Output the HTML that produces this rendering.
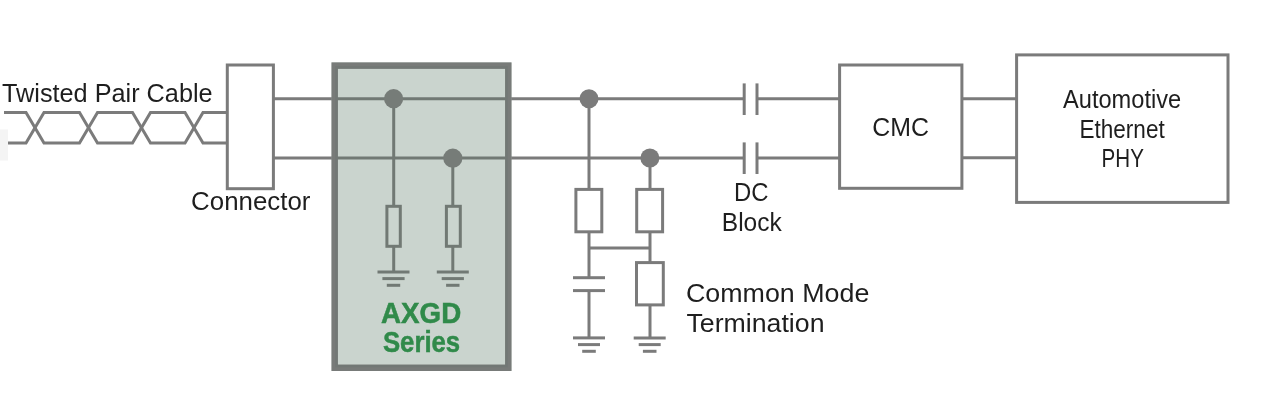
<!DOCTYPE html>
<html><head><meta charset="utf-8">
<style>
html,body{margin:0;padding:0;background:#fff;width:1280px;height:407px;overflow:hidden;}
svg{display:block;will-change:transform;}
text{font-family:"Liberation Sans",sans-serif;fill:#1e1e1e;stroke:none;}
</style></head>
<body>
<svg width="1280" height="407" viewBox="0 0 1280 407">
<rect x="0" y="0" width="1280" height="407" fill="#fff"/>
<rect x="0" y="129.5" width="8" height="31" fill="#f4f4f4"/>

<g fill="none" stroke="#7b7b7b" stroke-width="3" stroke-linejoin="miter">
  <!-- twisted pair -->
  <polyline points="4,112.5 26,112.5 44,143 79.5,143 97.5,112.5 132.5,112.5 150.5,143 185,143 203,112.5 227,112.5"/>
  <polyline points="8,143 26,143 44,112.5 79.5,112.5 97.5,143 132.5,143 150.5,112.5 185,112.5 203,143 227,143"/>
  <!-- connector -->
  <rect x="227.3" y="65" width="46.1" height="123.7" fill="#fff"/>
  <!-- main lines -->
  <line x1="273.4" y1="98.8" x2="744.2" y2="98.8"/>
  <line x1="757" y1="98.8" x2="839.6" y2="98.8"/>
  <line x1="273.4" y1="158" x2="744.2" y2="158"/>
  <line x1="757" y1="158" x2="839.6" y2="158"/>
</g>

<!-- AXGD box fill -->
<rect x="331.5" y="62.4" width="180" height="308.6" fill="#cad4ce"/>
<g fill="none" stroke="#717974" stroke-width="3">
  <line x1="331.5" y1="98.8" x2="511.5" y2="98.8"/>
  <line x1="331.5" y1="158" x2="511.5" y2="158"/>
  <line x1="393.7" y1="98.8" x2="393.7" y2="206.3"/>
  <rect x="386.9" y="206.3" width="13.4" height="40"/>
  <line x1="393.7" y1="246.3" x2="393.7" y2="271.9"/>
  <line x1="377.5" y1="271.9" x2="409.5" y2="271.9"/>
  <line x1="382.4" y1="278.6" x2="404.6" y2="278.6"/>
  <line x1="386.8" y1="285.3" x2="400.2" y2="285.3"/>

  <line x1="452.8" y1="158" x2="452.8" y2="206.3"/>
  <rect x="446.4" y="206.3" width="13.9" height="40"/>
  <line x1="452.8" y1="246.3" x2="452.8" y2="271.9"/>
  <line x1="436.8" y1="271.9" x2="468.8" y2="271.9"/>
  <line x1="441.7" y1="278.6" x2="463.9" y2="278.6"/>
  <line x1="446.1" y1="285.3" x2="459.5" y2="285.3"/>
</g>
<rect x="334.65" y="65.55" width="173.7" height="302.3" fill="none" stroke="#787b79" stroke-width="6.3"/>
<rect x="336.5" y="67.4" width="170" height="298.6" fill="none" stroke="#727875" stroke-width="2.5"/>
<circle cx="393.6" cy="98.7" r="9.6" fill="#767c78"/>
<circle cx="452.8" cy="158.2" r="9.6" fill="#767c78"/>

<g fill="none" stroke="#7b7b7b" stroke-width="3">
  <!-- CMT -->
  <line x1="589" y1="98.8" x2="589" y2="189.4"/>
  <rect x="575.9" y="189.4" width="25.9" height="42.4"/>
  <line x1="589" y1="231.8" x2="589" y2="277.7"/>
  <line x1="573" y1="277.7" x2="605" y2="277.7"/>
  <line x1="573" y1="290.6" x2="605" y2="290.6"/>
  <line x1="589" y1="290.6" x2="589" y2="337.9"/>
  <line x1="573" y1="337.9" x2="605" y2="337.9"/>
  <line x1="578" y1="344.6" x2="600" y2="344.6"/>
  <line x1="582.2" y1="351.3" x2="595.8" y2="351.3"/>

  <line x1="650" y1="158" x2="650" y2="189.4"/>
  <rect x="636.7" y="189.4" width="25.9" height="42.4"/>
  <line x1="650" y1="231.8" x2="650" y2="262.6"/>
  <line x1="589" y1="248" x2="650" y2="248"/>
  <rect x="636.5" y="262.6" width="26.8" height="42.3"/>
  <line x1="650" y1="304.9" x2="650" y2="337.9"/>
  <line x1="633.7" y1="337.9" x2="665.7" y2="337.9"/>
  <line x1="638.7" y1="344.6" x2="660.7" y2="344.6"/>
  <line x1="642.9" y1="351.3" x2="656.5" y2="351.3"/>

  <!-- DC block -->
  <line x1="744.2" y1="83.4" x2="744.2" y2="115"/>
  <line x1="757" y1="83.4" x2="757" y2="115"/>
  <line x1="744.2" y1="142.4" x2="744.2" y2="174"/>
  <line x1="757" y1="142.4" x2="757" y2="174"/>

  <!-- CMC -->
  <rect x="839.6" y="65" width="122.3" height="123.3"/>
  <line x1="961.9" y1="98.8" x2="1016.6" y2="98.8"/>
  <line x1="961.9" y1="157.8" x2="1016.6" y2="157.8"/>
  <!-- PHY -->
  <rect x="1016.6" y="54.9" width="211.4" height="147.5"/>
</g>
<circle cx="589" cy="98.7" r="9.5" fill="#7b7b7b"/>
<circle cx="649.9" cy="158" r="9.5" fill="#7b7b7b"/>

<g font-size="26.5">
  <text x="2" y="101.9" textLength="210.6" lengthAdjust="spacingAndGlyphs">Twisted Pair Cable</text>
  <text x="191.1" y="210.2" textLength="119.3" lengthAdjust="spacingAndGlyphs">Connector</text>
  <text x="734" y="200.9" textLength="34.5" lengthAdjust="spacingAndGlyphs">DC</text>
  <text x="721.8" y="231.2" textLength="60" lengthAdjust="spacingAndGlyphs">Block</text>
  <text x="686" y="302.3" textLength="183.3" lengthAdjust="spacingAndGlyphs">Common Mode</text>
  <text x="686.5" y="332.2" textLength="138" lengthAdjust="spacingAndGlyphs">Termination</text>
  <text x="872.3" y="136.2" textLength="56.7" lengthAdjust="spacingAndGlyphs">CMC</text>
</g>
<g font-size="25.5">
  <text x="1063" y="107.5" textLength="118.2" lengthAdjust="spacingAndGlyphs">Automotive</text>
  <text x="1079.5" y="137.8" textLength="85.2" lengthAdjust="spacingAndGlyphs">Ethernet</text>
  <text x="1101.6" y="167.3" textLength="42.3" lengthAdjust="spacingAndGlyphs">PHY</text>
</g>
<g font-size="29" font-weight="bold" style="fill:#2b8544">
  <text x="381" y="322.8" textLength="80.2" lengthAdjust="spacingAndGlyphs" style="fill:#308a4a;stroke:#308a4a;stroke-width:0.5px">AXGD</text>
  <text x="382.9" y="352.2" textLength="77.3" lengthAdjust="spacingAndGlyphs" style="fill:#308a4a;stroke:#308a4a;stroke-width:0.5px">Series</text>
</g>
</svg>
</body></html>
